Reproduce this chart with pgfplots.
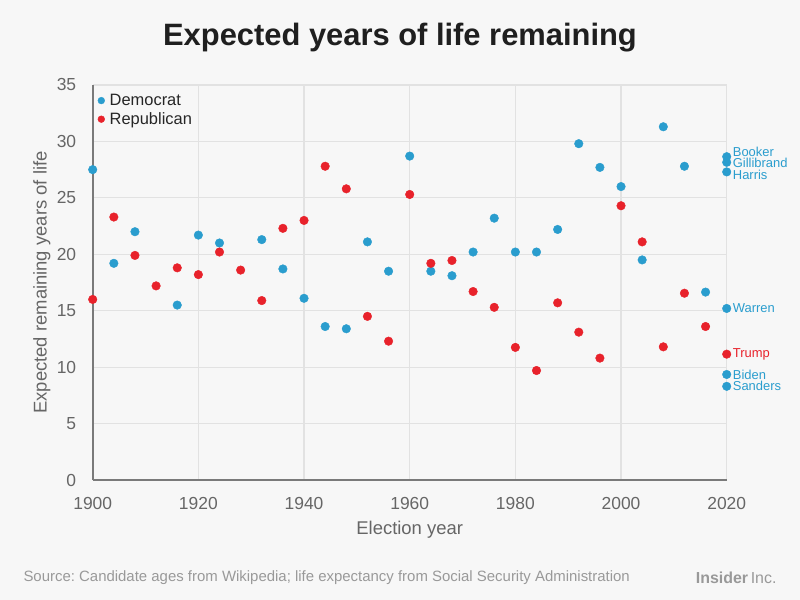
\documentclass[border=0pt]{standalone}
\usepackage{fontspec}
\setmainfont{Liberation Sans}
\usepackage{pgfplots}
\pgfplotsset{compat=1.18}

\definecolor{bg}{HTML}{F7F7F7}
\definecolor{gridc}{HTML}{E2E2E2}
\definecolor{axisc}{HTML}{7A7A7A}
\definecolor{labc}{HTML}{666666}
\definecolor{srcc}{HTML}{999999}
\definecolor{dem}{HTML}{2A9DCE}
\definecolor{rep}{HTML}{E8222B}

\begin{document}
\frenchspacing
\begin{tikzpicture}
\useasboundingbox (0,0) rectangle (800bp,600bp);
\fill[bg] (0,0) rectangle (800bp,600bp);
\node[font=\fontsize{31}{36}\selectfont\bfseries, text=black!88] at (400bp,562bp) {Expected years of life remaining};
\node[anchor=west, font=\fontsize{15}{17}\selectfont, text=srcc] at (20bp,22bp)
  {Source: Candidate ages from Wikipedia; life expectancy from Social Security Administration};
\node[anchor=east, font=\fontsize{16}{18}\selectfont, text=srcc] at (780bp,22bp) {\textbf{Insider}\,Inc.};

\begin{axis}[
  at={(92.7bp,120bp)}, anchor=south west,
  scale only axis, width=634bp, height=395bp,
  xmin=1900, xmax=2020, ymin=0, ymax=35,
  xtick={1900,1920,...,2020}, ytick={0,5,...,35},
  /pgf/number format/set thousands separator={},
  /pgf/number format/assume math mode=true,
  axis lines=left, axis line style={-, draw=axisc, line width=2bp},
  major tick length=0pt,
  grid=major, grid style={draw=gridc, line width=1.2bp},
  ticklabel style={font=\fontsize{17.5}{20}\selectfont, text=labc},
  xticklabel style={yshift=-14bp},
  yticklabel style={xshift=-13bp},
  xlabel={Election year},
  ylabel={Expected remaining years of life},
  label style={font=\fontsize{18.5}{20}\selectfont, text=labc},
  xlabel style={at={(rel axis cs:0.5,0)}, anchor=center, yshift=-50bp},
  ylabel style={at={(rel axis cs:-0.08,0.5)}, anchor=center},
  clip=false,
  legend style={at={(rel axis cs:0.0,1.0)}, anchor=north west, xshift=4bp, yshift=-7bp,
    draw=none, fill=none,
    font=\fontsize{16.5}{18}\selectfont, text=black!85, row sep=1.5bp,
    inner xsep=1bp, inner ysep=0bp,
    /tikz/every odd column/.append style={column sep=3bp}},
  legend cell align=left,
  legend image code/.code={\draw[#1, mark size=3.4bp] plot coordinates {(0bp,0bp)};},
]
\addplot[only marks, mark=*, mark size=4.3bp, color=dem, mark options={draw=none}] coordinates {
  (1900,27.5) (1904,19.2) (1908,22.0) (1916,15.5) (1920,21.7) (1924,21.0)
  (1932,21.3) (1936,18.7) (1940,16.1) (1944,13.6) (1948,13.4) (1952,21.1)
  (1956,18.5) (1960,28.7) (1964,18.5) (1968,18.1) (1972,20.2) (1976,23.2)
  (1980,20.2) (1984,20.2) (1988,22.2) (1992,29.8) (1996,27.7) (2000,26.0)
  (2004,19.5) (2008,31.3) (2012,27.8) (2016,16.65)
  (2020,28.65) (2020,28.15) (2020,27.3) (2020,15.2) (2020,9.35) (2020,8.3)
};
\addlegendentry{Democrat}
\addplot[only marks, mark=*, mark size=4.3bp, color=rep, mark options={draw=none}] coordinates {
  (1900,16.0) (1904,23.3) (1908,19.9) (1912,17.2) (1916,18.8) (1920,18.2)
  (1924,20.2) (1928,18.6) (1932,15.9) (1936,22.3) (1940,23.0) (1944,27.8)
  (1948,25.8) (1952,14.5) (1956,12.3) (1960,25.3) (1964,19.2) (1968,19.45)
  (1972,16.7) (1976,15.3) (1980,11.75) (1984,9.7) (1988,15.7) (1992,13.1)
  (1996,10.8) (2000,24.3) (2004,21.1) (2008,11.8) (2012,16.55) (2016,13.6)
  (2020,11.15)
};
\addlegendentry{Republican}

\begin{scope}[every node/.style={anchor=west, font=\fontsize{13}{15}\selectfont, inner sep=0pt, xshift=6bp}]
\node[text=dem, yshift=4.5bp] at (axis cs:2020,28.65) {Booker};
\node[text=dem, yshift=-1bp] at (axis cs:2020,28.15) {Gillibrand};
\node[text=dem, yshift=-3bp] at (axis cs:2020,27.3) {Harris};
\node[text=dem] at (axis cs:2020,15.2) {Warren};
\node[text=rep] at (axis cs:2020,11.15) {Trump};
\node[text=dem] at (axis cs:2020,9.35) {Biden};
\node[text=dem] at (axis cs:2020,8.3) {Sanders};
\end{scope}
\end{axis}
\end{tikzpicture}
\end{document}
